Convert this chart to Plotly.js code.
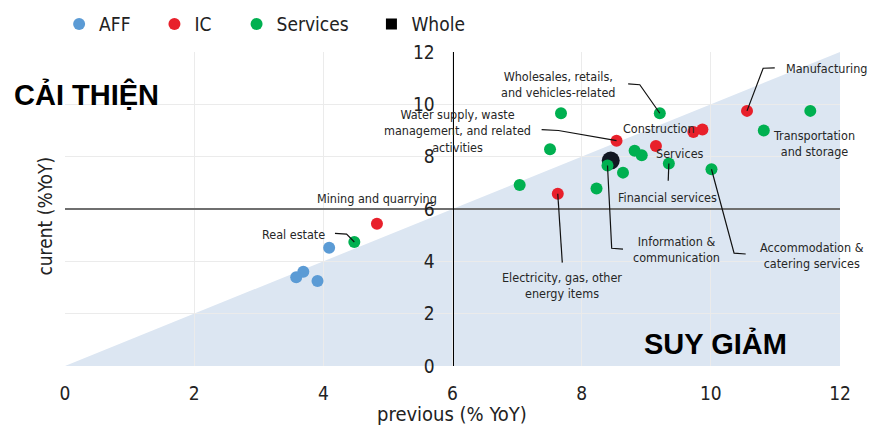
<!DOCTYPE html>
<html>
<head>
<meta charset="utf-8">
<script src="https://cdn.plot.ly/plotly-3.0.1.min.js"></script>
<style>html,body{margin:0;padding:0;background:#fff}#chart{width:876px;height:426px}</style>
</head>
<body>
<div id="chart"></div>
<script>
// ---- data ----
const affX = [4.09, 3.69, 3.58, 3.91];
const affY = [4.52, 3.60, 3.39, 3.25];
const icX = [4.83, 8.54, 7.63, 10.56, 9.15, 9.73, 9.87];
const icY = [5.44, 8.61, 6.58, 9.75, 8.41, 8.94, 9.04];
const svcX = [4.48, 7.68, 9.21, 7.51, 8.82, 8.93, 8.40, 8.64, 9.35, 7.04, 8.23, 11.54, 10.82, 10.01];
const svcY = [4.74, 9.66, 9.66, 8.28, 8.23, 8.05, 7.66, 7.39, 7.74, 6.92, 6.78, 9.75, 9.00, 7.52];
const wholeX = [8.45];
const wholeY = [7.85];
const seriesNames = ['AFF', 'IC', 'Services', 'Whole'];
const tickVals = [0, 2, 4, 6, 8, 10, 12];
const labelTexts = [
  'Mining and quarrying',
  'Real estate',
  'Wholesales, retails,<br>and vehicles-related',
  'Water supply, waste<br>management, and related<br>activities',
  'Manufacturing',
  'Construction',
  'Services',
  'Financial services',
  'Transportation<br>and storage',
  'Accommodation &<br>catering services',
  'Information &<br>communication',
  'Electricity, gas, other<br>energy items'
];
const zoneTexts = ['CẢI THIỆN', 'SUY GIẢM'];
const axisTitles = ['previous (% YoY)', 'curent (%YoY)'];

// ---- styles ----
const FONT = 'DejaVu Sans Condensed, DejaVu Sans, sans-serif';
const cBlue = '#5b9bd5', cRed = '#e8202b', cGreen = '#00b050', cBlack = '#111722';

const traces = [
  {x: wholeX, y: wholeY, type: 'scatter', mode: 'markers', showlegend: false,
   marker: {color: cBlack, size: 18}, hoverinfo: 'x+y'},
  {x: affX, y: affY, name: seriesNames[0], type: 'scatter', mode: 'markers', legend: 'legend',
   marker: {color: cBlue, size: 12}},
  {x: icX, y: icY, name: seriesNames[1], type: 'scatter', mode: 'markers', legend: 'legend2',
   marker: {color: cRed, size: 12}},
  {x: svcX, y: svcY, name: seriesNames[2], type: 'scatter', mode: 'markers', legend: 'legend3',
   marker: {color: cGreen, size: 12}},
  {x: [null], y: [null], name: seriesNames[3], type: 'scatter', mode: 'markers', legend: 'legend4',
   marker: {color: '#000', size: 11, symbol: 'square'}}
];

// label positions (data coords) and anchors
const labelPos = [
  {x: 4.83, y: 6.39},
  {x: 4.06, y: 5.03, xanchor: 'right'},
  {x: 7.64, y: 10.75},
  {x: 6.07, y: 8.99},
  {x: 11.13, y: 11.37, xanchor: 'left'},
  {x: 9.20, y: 9.06},
  {x: 9.525, y: 8.14},
  {x: 9.33, y: 6.45},
  {x: 11.59, y: 8.51},
  {x: 11.57, y: 4.23},
  {x: 9.47, y: 4.45},
  {x: 7.70, y: 3.09}
];

const annotations = labelTexts.map((t, i) => ({
  text: t, x: labelPos[i].x, y: labelPos[i].y, xref: 'x', yref: 'y',
  xanchor: labelPos[i].xanchor || 'center', yanchor: 'middle',
  showarrow: false, align: 'center',
  font: {family: FONT, size: 12.5, color: '#262626'}
}));

annotations.push(
  {text: '<b>' + zoneTexts[0] + '</b>', xref: 'paper', yref: 'paper', x: -0.069, y: 0.865,
   xanchor: 'left', yanchor: 'middle', showarrow: false,
   font: {family: 'Liberation Sans, Arial, sans-serif', size: 29, color: '#000'}},
  {text: '<b>' + zoneTexts[1] + '</b>', xref: 'paper', yref: 'paper', x: 0.839, y: 0.072,
   xanchor: 'center', yanchor: 'middle', showarrow: false,
   font: {family: 'Liberation Sans, Arial, sans-serif', size: 29, color: '#000'}},
  {text: axisTitles[0], xref: 'paper', yref: 'paper', x: 0.4994, y: -0.152,
   xanchor: 'center', yanchor: 'middle', showarrow: false,
   font: {family: FONT, size: 20, color: '#222'}},
  {text: axisTitles[1], xref: 'paper', yref: 'paper', x: -0.027, y: 0.476, textangle: -90,
   xanchor: 'center', yanchor: 'middle', showarrow: false,
   font: {family: FONT, size: 19, color: '#222'}}
);

const leader = {color: '#111', width: 1.2};
const shapes = [
  {type: 'path', xref: 'x', yref: 'y', layer: 'below', path: 'M0,0 L12,12 L12,0 Z',
   fillcolor: '#dce6f2', line: {width: 0}},
  {type: 'line', xref: 'x', yref: 'y', layer: 'between', x0: 0, x1: 12, y0: 6, y1: 6,
   line: {color: '#6f6f6f', width: 2}},
  // leader lines
  {type: 'path', xref: 'x', yref: 'y', path: 'M4.18,5.07 L4.36,5.04 L4.48,4.74', line: leader},
  {type: 'path', xref: 'x', yref: 'y', path: 'M8.72,10.78 L8.90,10.75 L9.21,9.66', line: leader},
  {type: 'path', xref: 'x', yref: 'y', path: 'M7.38,9.03 L7.64,9.00 L8.54,8.61', line: leader},
  {type: 'path', xref: 'x', yref: 'y', path: 'M10.99,11.39 L10.81,11.38 L10.56,9.75', line: leader},
  {type: 'path', xref: 'x', yref: 'y', path: 'M9.34,7.08 L9.35,7.74', line: leader},
  {type: 'path', xref: 'x', yref: 'y', path: 'M10.01,7.52 L10.36,4.31 L10.54,4.28', line: leader},
  {type: 'path', xref: 'x', yref: 'y', path: 'M8.40,7.66 L8.465,4.50 L8.64,4.47', line: leader},
  {type: 'path', xref: 'x', yref: 'y', path: 'M7.63,6.58 L7.70,3.95', line: leader}
];

const legBase = {orientation: 'h', xanchor: 'left', yanchor: 'middle', y: 1.089, itemwidth: 30,
  bgcolor: 'rgba(0,0,0,0)', font: {family: FONT, size: 19, color: '#222'}};

const layout = {
  width: 876, height: 426,
  margin: {l: 65, r: 36, t: 52, b: 60, autoexpand: false},
  paper_bgcolor: '#fff', plot_bgcolor: '#fff',
  font: {family: FONT, color: '#222'},
  showlegend: true,
  legend: Object.assign({}, legBase, {x: -0.0076}),
  legend2: Object.assign({}, legBase, {x: 0.1154}),
  legend3: Object.assign({}, legBase, {x: 0.2214}),
  legend4: Object.assign({}, legBase, {x: 0.3954}),
  xaxis: {range: [0, 12], tickvals: tickVals, showgrid: true, gridcolor: '#ebebeb', gridwidth: 1,
    zeroline: false, showline: false, ticks: '', ticklabelstandoff: 14, automargin: false,
    tickfont: {family: FONT, size: 19, color: '#222'}, fixedrange: true},
  yaxis: {range: [0, 12], tickvals: tickVals, showgrid: true, gridcolor: '#ebebeb', gridwidth: 1,
    zeroline: false, showline: true, linecolor: '#000', linewidth: 1, automargin: false,
    anchor: 'free', position: 0.5, ticks: '', ticklabelstandoff: 14,
    tickfont: {family: FONT, size: 19, color: '#222'}, fixedrange: true},
  annotations: annotations,
  shapes: shapes
};

Plotly.newPlot('chart', traces, layout, {displayModeBar: false, staticPlot: true});
</script>
</body>
</html>
